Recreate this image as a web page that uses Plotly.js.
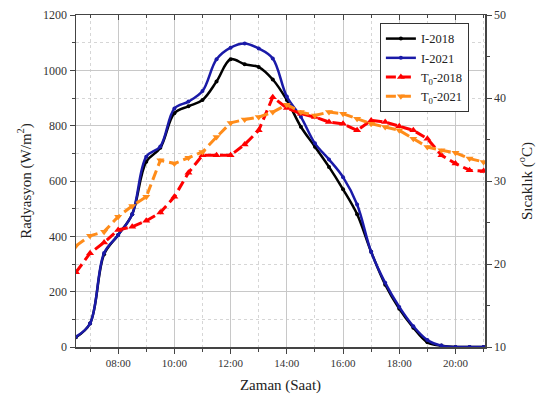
<!DOCTYPE html>
<html><head><meta charset="utf-8">
<script src="https://cdn.plot.ly/plotly-3.0.1.min.js"></script>
<style>html,body{margin:0;padding:0;background:#fff}#c{width:544px;height:394px}</style>
</head><body><div id="c"></div>
<script>
// time in hours (every 30 min)
var times = [6.5,7,7.5,8,8.5,9,9.5,10,10.5,11,11.5,12,12.5,13,13.5,14,14.5,15,15.5,16,16.5,17,17.5,18,18.5,19,19.5,20,20.5,21];
var I2018 = [35,85,335,405,480,670,720,845,870,893,960,1040,1022,1012,967,893,796,724,651,570,480,344,225,138,70,17,5,0,0,0];
var I2021 = [37,85,340,405,480,688,725,862,887,925,1040,1082,1097,1079,1043,905,832,736,678,614,515,344,232,145,75,25,5,0,0,0];
var T2018 = [19.0,21.3,22.6,24.1,24.5,25.2,26.2,28.1,31.0,33.1,33.1,33.1,34.4,36.1,40.1,38.8,38.1,37.7,37.1,36.9,36.1,37.3,37.1,36.6,36.1,35.1,33.1,32.1,31.3,31.2];
var T2021 = [22.2,23.4,23.9,25.7,27.0,28.1,32.5,32.1,32.8,33.5,35.3,37.0,37.4,37.7,38.3,39.2,38.3,37.9,38.3,38.1,37.5,36.9,36.5,36.1,35.1,34.1,33.7,33.4,32.7,32.3];
var tickVals = [8,10,12,14,16,18,20];
var tickLabels = ['08:00','10:00','12:00','14:00','16:00','18:00','20:00'];
var names = ['I-2018','I-2021','T<sub>0</sub>-2018','T<sub>0</sub>-2021'];

var serif = 'Liberation Serif';
function F(size,color){return {family:serif,size:size,color:color||'#333'};}
var traces = [
  {x:times,y:I2018,name:names[0],mode:'lines+markers',line:{color:'#000000',width:2.5,shape:'spline'},marker:{size:4,color:'#000000'}},
  {x:times,y:I2021,name:names[1],mode:'lines+markers',line:{color:'#1a1aa8',width:2.5,shape:'spline'},marker:{size:4,color:'#1a1aa8'}},
  {x:times,y:T2018,name:names[2],yaxis:'y2',mode:'lines+markers',line:{color:'#ff0000',width:3,dash:'10px,5px'},marker:{symbol:'triangle-up',size:7,color:'#ff0000'}},
  {x:times,y:T2021,name:names[3],yaxis:'y2',mode:'lines+markers',line:{color:'#ff8c1a',width:3,dash:'10px,5px'},marker:{symbol:'triangle-down',size:7,color:'#ff8c1a'}},
  {x:[],y:[],xaxis:'x2',yaxis:'y',mode:'lines',showlegend:false,hoverinfo:'skip'}
];
var axLine = '#444';
var layout = {
  width:544,height:394,
  margin:{l:76,r:59,t:15,b:47},
  paper_bgcolor:'#fff',plot_bgcolor:'#fff',
  font:F(12),
  showlegend:true,
  legend:{x:0.743,y:0.976,xanchor:'left',yanchor:'top',bgcolor:'#fff',bordercolor:'#333',borderwidth:1,font:F(12.5,'#222'),tracegroupgap:0,itemwidth:30},
  xaxis:{range:[6.5,21.05],tickvals:tickVals,ticktext:tickLabels,ticks:'outside',ticklen:5,tickcolor:axLine,
    showline:true,linecolor:axLine,linewidth:1.5,mirror:true,zeroline:false,
    showgrid:true,gridcolor:'#c8c8c8',gridwidth:1,tickfont:F(11),
    minor:{dtick:1,tick0:7,ticks:'outside',ticklen:3,tickcolor:axLine,showgrid:true,gridcolor:'#d6d6d6',griddash:'dot'},
    title:{text:'Zaman (Saat)',font:F(15,'#222'),standoff:12}},
  xaxis2:{overlaying:'x',side:'top',anchor:'y',range:[6.5,21.05],tickvals:tickVals,ticks:'inside',ticklen:5,tickcolor:axLine,
    showticklabels:false,showline:false,showgrid:false,zeroline:false,
    minor:{dtick:1,tick0:7,ticks:'inside',ticklen:3,tickcolor:axLine,showgrid:false}},
  yaxis:{range:[0,1200],dtick:200,ticks:'outside',ticklen:5,tickcolor:axLine,showline:true,linecolor:axLine,linewidth:1.5,
    zeroline:false,showgrid:true,gridcolor:'#c8c8c8',tickfont:F(12),
    minor:{dtick:100,ticks:'outside',ticklen:3,tickcolor:axLine,showgrid:true,gridcolor:'#d6d6d6',griddash:'dot'},
    title:{text:'Radyasyon (W/m<sup>2</sup>)',font:F(15,'#222'),standoff:8}},
  yaxis2:{range:[10,50],dtick:10,overlaying:'y',side:'right',ticks:'outside',ticklen:5,tickcolor:axLine,showline:true,linecolor:axLine,linewidth:1.5,
    zeroline:false,showgrid:false,tickfont:F(12),
    minor:{dtick:5,ticks:'outside',ticklen:3,tickcolor:axLine},
    title:{text:'Sıcaklık (<sup>o</sup>C)',font:F(15,'#222'),standoff:16}}
};
Plotly.newPlot('c',traces,layout,{displayModeBar:false,staticPlot:true});
</script></body></html>
